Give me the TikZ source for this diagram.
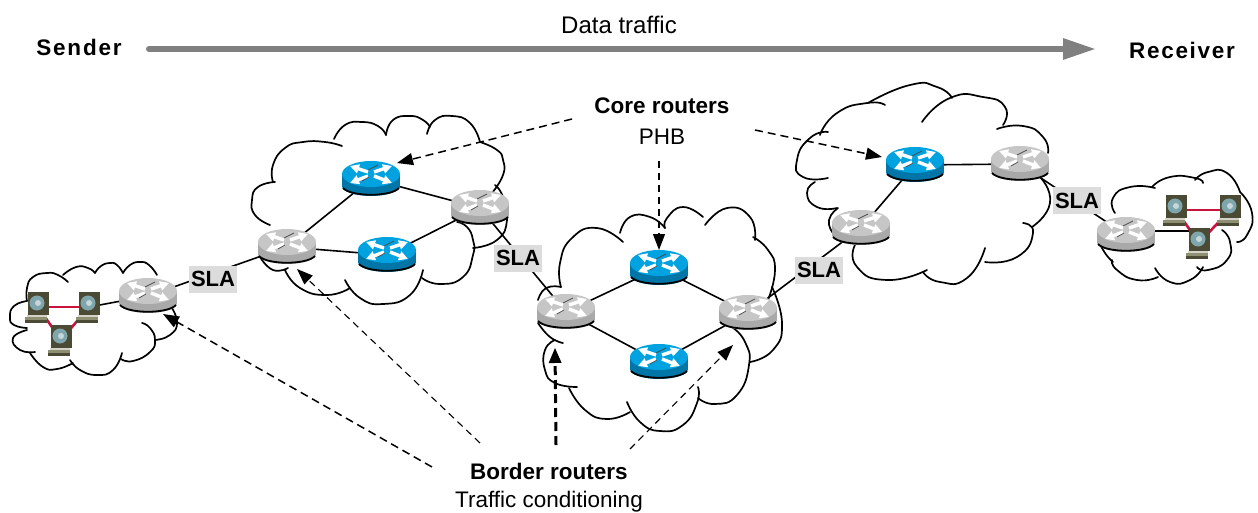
\documentclass[tikz,border=0pt]{standalone}
\usepackage{fontspec}
\setmainfont{Liberation Sans}
\usetikzlibrary{arrows.meta}
\definecolor{grtop}{HTML}{C6C6C6}
\definecolor{grside}{HTML}{A9A9A9}
\definecolor{bltop}{HTML}{00A3E0}
\definecolor{blside}{HTML}{0076A8}
\definecolor{pcbody}{HTML}{4B4B35}
\definecolor{pcscreen}{HTML}{7FA6AC}
\definecolor{pckey}{HTML}{8F8F72}
\definecolor{linkred}{HTML}{C8143C}
\definecolor{slabg}{HTML}{DCDCDC}
\definecolor{flowgray}{HTML}{808080}
\tikzset{
 cloudline/.style={draw=black,line width=1.7pt,line cap=round},
 link/.style={draw=black,line width=1.6pt},
 redlink/.style={draw=linkred,line width=2.6pt},
 routeranchor/.style={inner sep=0pt,minimum width=56pt,minimum height=30pt},
 pcanchor/.style={inner sep=0pt,minimum width=24pt,minimum height=30pt},
 sla/.style={fill=slabg,font=\bfseries\fontsize{22}{26}\selectfont,inner sep=0pt,minimum width=48pt,minimum height=27pt},
 lab/.style={font=\fontsize{22.5}{26}\selectfont,inner sep=0pt},
 blab/.style={font=\bfseries\fontsize{22.5}{26}\selectfont,inner sep=0pt},
 dashA/.style={draw=black,line width=1.5pt,dash pattern=on 8pt off 5pt,-{Triangle[length=16pt,width=12pt]}},
 dashB/.style={draw=black,line width=1.1pt,dash pattern=on 7pt off 5pt,-{Triangle[length=16pt,width=12pt]}},
 dashC/.style={draw=black,line width=3pt,dash pattern=on 9pt off 5pt,-{Triangle[length=15pt,width=13pt,line width=0pt]}},
 pics/router/.style n args={2}{code={
   \fill[#2] (-29,-5) rectangle (29,7);
   \fill[#2] (0,7) ellipse [x radius=29pt,y radius=10pt];
   \draw[line width=1.8pt,black] (-28,9) .. controls (-20,18) and (20,18) .. (28,9);
   \fill[#1] (0,-5) ellipse [x radius=29pt,y radius=13pt];
   \foreach \a/\b/\c/\d in {-21/-13/-3/-7,21/-13/3/-7,-21/4/-3/-3,21/4/3/-3}{
     \draw[white,line width=3.4pt,-{Triangle[length=9pt,width=9pt]}] (\c,\d) -- (\a,\b);
   }
   \draw[black!70,line width=.7pt] (-3,-9) -- (7,-14) (-9,2) -- (-2,-2);
 }},
 pics/pc/.style={code={
   \fill[pcbody] (-10,-15) rectangle (11,8);
   \fill[pcscreen] (-1,-4) circle [radius=7.5pt];
   \fill[white!55!pcscreen] (0,-4) circle [radius=3pt];
   \fill[pckey!40!white] (-11,8) rectangle (9,10);
   \fill[pckey] (-13,10) rectangle (9,13);
   \fill[pcbody] (-13,13) rectangle (9,16);
 }},
}
\begin{document}
\begin{tikzpicture}[x=1pt,y=-1pt]
\useasboundingbox (0,0) rectangle (1258,513);
% anchors
\node[routeranchor] (ra) at (148,296) {};
\node[routeranchor] (b1) at (371,179) {};
\node[routeranchor] (b2) at (480,208) {};
\node[routeranchor] (b3) at (287,247) {};
\node[routeranchor] (b4) at (387,255) {};
\node[routeranchor] (c1) at (566,312) {};
\node[routeranchor] (c2) at (659,268) {};
\node[routeranchor] (c3) at (659,362) {};
\node[routeranchor] (c4) at (748,313) {};
\node[routeranchor] (d1) at (915,165) {};
\node[routeranchor] (d2) at (1020,164) {};
\node[routeranchor] (d3) at (861,228) {};
\node[routeranchor] (e1) at (1126,235) {};
\node[pcanchor] (p1) at (38,307) {};
\node[pcanchor] (p2) at (89,307) {};
\node[pcanchor] (p3) at (61,340) {};
\node[pcanchor] (q1) at (1176,210) {};
\node[pcanchor] (q2) at (1230,210) {};
\node[pcanchor] (q3) at (1199,243) {};
% clouds
\foreach \pts in {
 {(27,301)(14,306)(10,317)(14,325)(27,328)},{(27,330)(13,338)(20,350)(35,352)},{(30,353)(43,367)(57,369)(73,363)},
 {(70,360)(80,370)(97,375)(113,370)(122,353)},{(121,359)(133,361)(150,352)(155,340)(150,328)(142,323)},
 {(155,340)(170,335)(177,322)(170,305)},{(157,275)(149,265)(140,262)(130,265)(123,273)},
 {(123,273)(117,265)(110,263)(101,266)(95,273)},{(95,273)(88,268)(76,267)(63,275)},{(68,282)(58,275)(47,273)(33,277)(27,288)(27,301)}}
 {\draw[cloudline] plot[smooth,tension=.9] coordinates \pts;}
\foreach \pts in {
 {(342,146)(325,142)(303,142)(285,148)(273,165)(273,182)},{(275,182)(258,187)(252,200)(255,215)(270,225)},{(260,257)(273,270)(288,268)},
 {(285,270)(300,288)(327,295)(350,288)},{(345,280)(360,298)(383,304)(410,295)(423,270)},
 {(422,278)(440,284)(463,277)(473,255)(473,240)(467,227)(457,222)},{(473,248)(497,240)(507,220)(503,197)(495,185)},
 {(492,193)(503,175)(503,160)(497,150)(480,142)},
 {(427,134)(435,120)(452,116)(470,123)(480,142)},
 {(386,135)(393,120)(410,116)(423,120)(430,127)},
 {(334,139)(345,125)(362,122)(378,126)(386,135)}}
 {\draw[cloudline] plot[smooth,tension=.9] coordinates \pts;}
\foreach \pts in {
 {(623,242)(597,228)(572,238)(560,263)(561,287)},{(561,287)(546,288)(538,300)},{(538,323)(550,337)(563,343)},
 {(555,340)(545,350)(545,370)(555,383)(577,387)},{(569,388)(585,410)(607,419)(630,412)},{(627,402)(640,422)(660,431)(683,425)(697,403)(698,387)},
 {(698,398)(715,404)(737,395)(749,365)(745,342)(733,328)},{(750,362)(773,350)(782,323)(772,287)},
 {(768,300)(775,270)(768,250)(753,237)},{(755,240)(750,217)(727,208)(705,225)},{(703,217)(683,207)(667,218)(665,228)},
 {(665,228)(650,217)(630,217)(620,233)}}
 {\draw[cloudline] plot[smooth,tension=.9] coordinates \pts;}
\foreach \pts in {
 {(885,105)(867,103)(837,113)(820,135)},{(828,132)(810,138)(797,160)(803,177)(828,178)},{(815,182)(807,193)(817,207)(837,208)},
 {(838,208)(829,220)(833,233)},{(855,245)(857,267)(887,280)(927,270)},{(923,272)(940,282)(967,278)(985,248)},
 {(985,262)(1017,257)(1033,233)(1023,223)},{(1032,227)(1050,203)(1040,177)},{(1048,153)(1043,137)(1023,126)(997,129)},
 {(1003,125)(1005,107)(983,97)(950,98)(922,122)},{(952,98)(937,87)(910,85)(868,103)}}
 {\draw[cloudline] plot[smooth,tension=1] coordinates \pts;}
\foreach \pts in {
 {(1115,213)(1113,198)(1130,187)(1155,188)},{(1152,187)(1170,177)(1195,178)(1203,183)},{(1195,180)(1208,172)(1227,173)(1240,192)},
 {(1240,192)(1252,213)(1247,235)(1237,242)},{(1222,230)(1230,242)(1227,260)(1208,270)(1197,267)},
 {(1203,267)(1190,280)(1170,282)(1155,268)},{(1158,277)(1137,280)(1117,270)(1112,260)},{(1113,262)(1105,253)(1098,240)}}
 {\draw[cloudline] plot[smooth,tension=1] coordinates \pts;}
% links
\foreach \u/\v in {ra/b3,b3/b1,b3/b4,b1/b2,b4/b2,b2/c1,c1/c2,c1/c3,c2/c4,c3/c4,c4/d3,d3/d1,d1/d2,d2/e1,p2/ra}
 {\draw[link] (\u.center) -- (\v.center);}
\draw[link] ([yshift=4pt]e1.center) -- ([yshift=12pt]q3.center);
\foreach \u/\v in {p1/p2,p1/p3,p2/p3,q1/q2,q1/q3,q2/q3}
 {\draw[redlink] (\u.center) -- (\v.center);}
% devices
\foreach \n in {ra,b2,b3,c1,c4,d2,d3,e1} {\pic at (\n.center) {router={grtop}{grside}};}
\foreach \n in {b1,b4,c2,c3,d1} {\pic at (\n.center) {router={bltop}{blside}};}
\foreach \n in {p1,p2,p3,q1,q2,q3} {\pic at (\n.center) {pc};}
% SLA labels
\node[sla] (s1) at (213,279) {SLA};
\node[sla] (s2) at (518,258) {SLA};
\node[sla] (s3) at (819,270) {SLA};
\node[sla] (s4) at (1077,201) {SLA};
% texts
\node[lab,font=\fontsize{24}{28}\selectfont] (dt) at (619,25) {Data traffic};
\node[blab] (snd) at (79,47) {\addfontfeature{LetterSpace=8}Sender};
\node[blab] (rcv) at (1182,50) {\addfontfeature{LetterSpace=7.5}Receiver};
\node[blab] (core) at (662,106) {Core routers};
\node[lab] (phb) at (662,137) {PHB};
\node[blab] (bord) at (549,471) {Border routers};
\node[lab] (tc) at (549,502) {Traffic conditioning};
% flow arrow
\coordinate (fa) at (149,49);
\coordinate (fb) at (1096,49);
\draw[draw=flowgray,line width=6pt,line cap=round,-{Triangle[length=33pt,width=20pt]}] (fa) -- (fb);
% dashed arrows
\coordinate (k1) at (572,119); \coordinate (k1t) at (397,163);
\coordinate (k2) at (659,161); \coordinate (k2t) at (659,250);
\coordinate (k3) at (755,130); \coordinate (k3t) at (882,157);
\coordinate (m1) at (432,467); \coordinate (m1t) at (163,314);
\coordinate (m2) at (480,443); \coordinate (m2t) at (297,269);
\coordinate (m3) at (556,445); \coordinate (m3t) at (555,348);
\coordinate (m4) at (630,449); \coordinate (m4t) at (733,345);
\draw[dashA] (k1) -- (k1t);
\draw[dashB] (k2) -- (k2t);
\draw[dashA] (k3) -- (k3t);
\draw[dashA] (m1) -- (m1t);
\draw[dashB] (m2) -- (m2t);
\draw[dashC] (m3) -- (m3t);
\draw[dashB] (m4) -- (m4t);
\end{tikzpicture}
\end{document}
